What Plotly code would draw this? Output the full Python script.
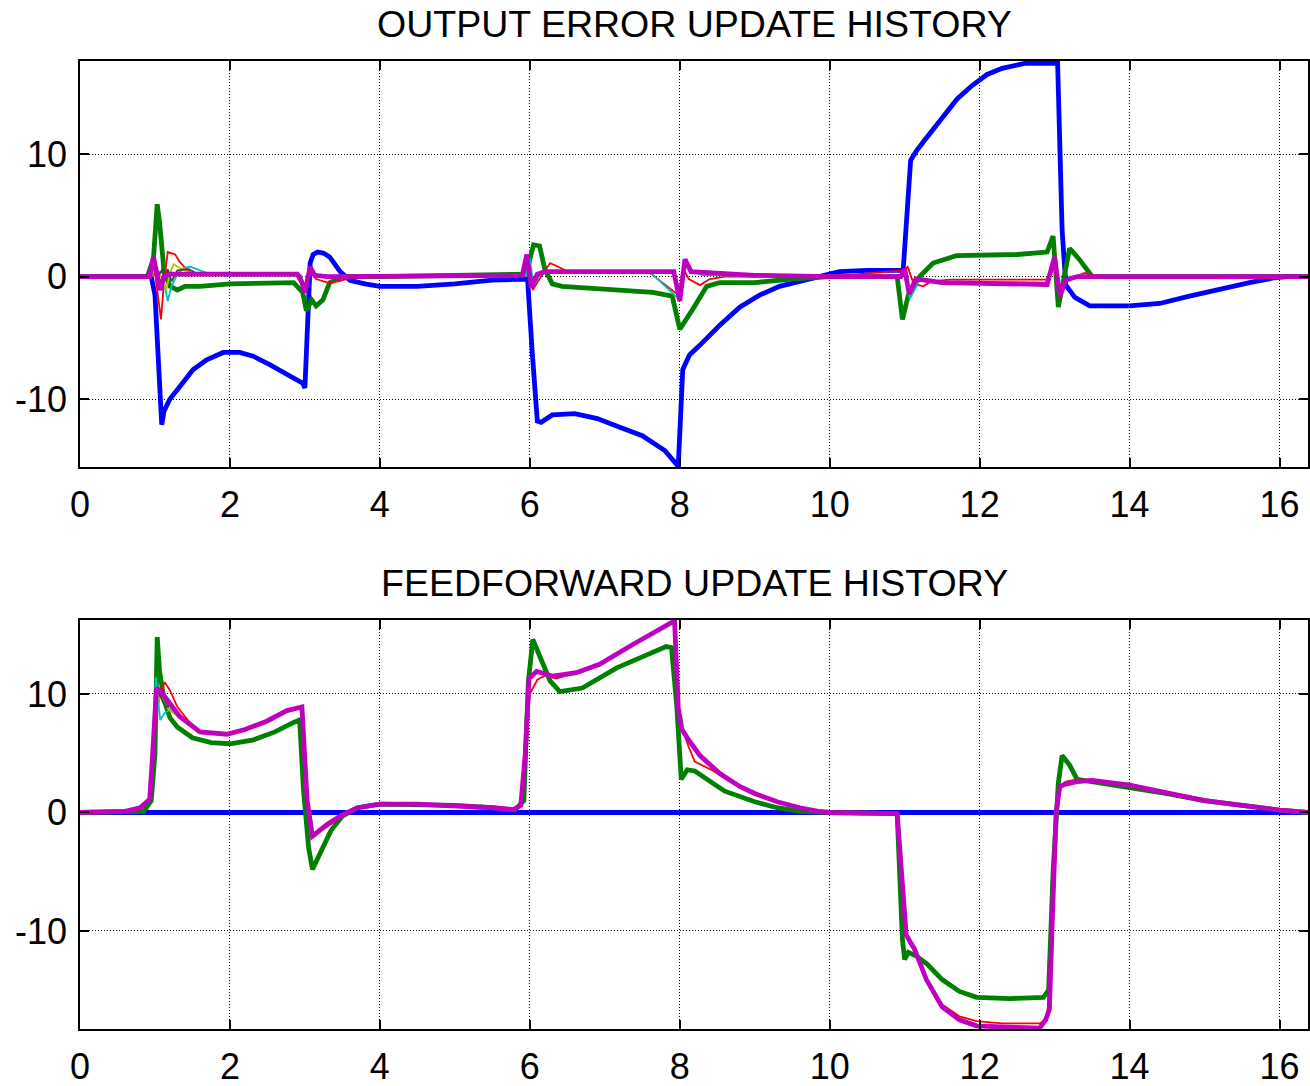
import plotly.graph_objects as go
from plotly.subplots import make_subplots

# ---------------- TOP: OUTPUT ERROR UPDATE HISTORY ----------------
e_blue_t = [0, 0.95, 1.0, 1.05, 1.09, 1.12, 1.2, 1.33, 1.51, 1.69, 1.91, 2.13, 2.31, 2.53, 2.76, 2.97, 3.0,
            3.07, 3.11, 3.17, 3.25, 3.33, 3.47, 3.6, 3.8, 4.0, 4.5, 5.0, 5.5, 5.97, 6.03, 6.1, 6.15, 6.3,
            6.6, 6.9, 7.2, 7.5, 7.8, 7.98, 8.04, 8.13, 8.27, 8.53, 8.8, 9.07, 9.33, 9.6, 9.87, 10.13, 10.5,
            10.98, 11.08, 11.15, 11.25, 11.35, 11.5, 11.7, 11.9, 12.1, 12.3, 12.6, 13.0, 13.04, 13.1, 13.15,
            13.27, 13.47, 14.0, 14.4, 14.8, 15.2, 15.6, 15.93, 16.1, 16.38]
e_blue_v = [0, 0, -1.5, -8.0, -12.1, -11.0, -10.0, -9.0, -7.6, -6.8, -6.2, -6.2, -6.5, -7.2, -8.0, -8.7, -9.1,
            1.1, 1.8, 2.0, 1.9, 1.6, 0.4, -0.3, -0.6, -0.8, -0.8, -0.6, -0.3, -0.2, -6.0, -11.8, -11.9, -11.3,
            -11.2, -11.6, -12.3, -13.0, -14.2, -15.5, -7.6, -6.4, -5.6, -4.0, -2.5, -1.5, -0.8, -0.4, 0.1, 0.4, 0.5,
            0.5, 9.5, 10.2, 11.0, 11.8, 13.0, 14.5, 15.6, 16.5, 17.0, 17.4, 17.4, 17.5, 3.8, -0.7,
            -1.7, -2.4, -2.4, -2.2, -1.6, -1.0, -0.5, -0.1, 0, 0]

e_green_t = [0, 0.9, 0.98, 1.03, 1.06, 1.12, 1.2, 1.3, 1.4, 1.6, 2.0, 2.5, 2.85, 2.97, 3.02, 3.09, 3.15,
             3.24, 3.33, 3.5, 4.0, 5.0, 5.95, 6.05, 6.13, 6.2, 6.3, 6.43, 7.24, 7.64, 7.9, 8.0, 8.17, 8.36,
             8.53, 9.0, 9.5, 10.0, 10.9, 10.97, 11.05, 11.2, 11.38, 11.69, 12.5, 12.9, 12.98, 13.05, 13.2,
             13.33, 13.5, 14.0, 16.38]
e_green_v = [0, 0, 1.5, 5.9, 4.5, 0.5, -0.8, -1.1, -0.8, -0.8, -0.6, -0.5, -0.5, -1.3, -2.8, -1.9, -2.4,
             -1.9, -0.5, 0, 0, 0.1, 0.2, 2.6, 2.5, 0.6, -0.6, -0.8, -1.1, -1.3, -1.6, -4.3, -2.7, -0.8,
             -0.5, -0.5, -0.2, 0, 0, -3.5, -1.5, 0, 1.1, 1.7, 1.8, 2.0, 3.3, -2.5, 2.3,
             1.4, 0, 0, 0]

e_red_t = [0, 0.95, 1.0, 1.05, 1.08, 1.12, 1.17, 1.27, 1.33, 1.42, 1.5, 2.0, 2.95, 3.0, 3.05, 3.15, 3.3,
           3.45, 3.6, 4.0, 5.9, 5.96, 6.04, 6.15, 6.27, 6.38, 6.5, 7.6, 7.98, 8.05, 8.12, 8.27, 8.4, 8.6,
           10.0, 10.98, 11.04, 11.12, 11.25, 11.35, 11.6, 12.9, 12.98, 13.05, 13.2, 13.4, 13.6, 16.38]
e_red_v = [0, 0, 0.3, -2.0, -3.5, -0.5, 2.0, 1.8, 1.2, 0.6, 0.2, 0.1, 0.1, -1.0, 0.5, -0.2, -0.5,
           -0.4, -0.1, 0, 0, 1.5, -1.1, 0.0, 1.1, 0.8, 0.4, 0.3, -1.5, 0.6, -0.2, -0.7, -0.2, 0,
           0, 0.5, 0.8, -0.6, -0.8, -0.4, -0.25, -0.25, 1.2, -1.0, -0.2, 0.3, 0, 0]

e_cyan_t = [0, 0.95, 1.0, 1.1, 1.17, 1.22, 1.3, 1.38, 1.47, 1.55, 1.69, 1.9, 2.95, 3.0, 3.05, 3.15, 5.95,
            6.0, 6.05, 6.15, 7.6, 7.98, 8.07, 8.15, 8.3, 10.95, 11.0, 11.07, 11.2, 11.6, 12.9, 13.0, 13.07,
            13.2, 16.38]
e_cyan_v = [0, 0, 0.5, 0.3, -2.0, -0.8, 0.2, 0.7, 0.8, 0.6, 0.3, 0.1, 0.1, -1.0, 0.6, 0, 0.1,
            1.5, -0.8, 0.3, 0.4, -1.8, 1.2, 0.5, 0.1, 0, 0.4, -1.8, -0.3, -0.45, -0.5, 1.2, -1.2,
            0, 0]

e_yellow_t = [0.95, 1.0, 1.08, 1.15, 1.2, 1.25, 1.33, 1.47, 1.6, 1.7]
e_yellow_v = [0, 0.8, 0.0, -1.1, 0.3, 1.0, 0.7, 0.3, 0.1, 0.1]

e_grey_t = [1.05, 1.1, 1.13, 1.17, 1.22, 1.3, 1.45, 1.6]
e_grey_v = [0.1, 0.6, -0.3, 0.6, -0.4, 0.5, 0.6, 0.1]

e_mag_t = [0, 0.93, 0.98, 1.02, 1.07, 1.12, 1.2, 1.5, 2.9, 2.96, 3.0, 3.07, 3.13, 3.3, 3.5, 5.9, 5.96,
           6.02, 6.1, 6.2, 7.6, 7.92, 8.0, 8.07, 8.15, 8.5, 9.0, 10.0, 10.95, 11.0, 11.06, 11.15, 11.5,
           12.9, 13.0, 13.07, 13.15, 13.3, 16.38]
e_mag_v = [0, 0, 1.6, 0.5, -1.1, 0.0, 0.2, 0.2, 0.2, -0.5, -1.3, 0.8, 0.1, 0.0, 0.0, 0.1, 1.8,
           -0.9, 0.2, 0.4, 0.4, 0.4, -2.0, 1.4, 0.4, 0.3, 0.1, 0.0, 0.0, 0.6, -1.4, -0.2, -0.5,
           -0.65, 1.6, -1.6, -0.3, 0.0, 0.0]

# ---------------- BOTTOM: FEEDFORWARD UPDATE HISTORY ----------------
f_blue_t = [0, 16.38]
f_blue_v = [0, 0]

f_green_t = [0, 0.6, 0.85, 0.95, 1.0, 1.03, 1.06, 1.12, 1.2, 1.3, 1.5, 1.75, 2.0, 2.3, 2.6, 2.85, 2.93,
             2.98, 3.05, 3.1, 3.2, 3.35, 3.5, 3.7, 4.0, 5.0, 5.5, 5.8, 5.92, 5.98, 6.04, 6.13, 6.27, 6.4,
             6.7, 7.16, 7.6, 7.82, 7.89, 7.96, 8.02, 8.1, 8.2, 8.4, 8.6, 9.0, 9.3, 9.6, 10.0, 10.9, 10.97,
             11.0, 11.05, 11.15, 11.3, 11.5, 11.73, 11.96, 12.4, 12.85, 12.92, 12.98, 13.05, 13.1, 13.2,
             13.3, 13.5, 14.0, 14.5, 15.0, 15.5, 16.0, 16.38]
f_green_v = [0, 0, 0.1, 1.0, 5.0, 14.8, 12.0, 9.5, 8.0, 7.2, 6.3, 5.9, 5.8, 6.1, 6.8, 7.6, 7.8,
             2.0, -3.0, -4.8, -3.5, -1.5, -0.3, 0.4, 0.7, 0.6, 0.4, 0.2, 1.0, 11.0, 14.6, 13.2, 11.1, 10.2,
             10.5, 12.2, 13.4, 14.0, 13.9, 9.0, 2.8, 3.6, 3.5, 2.6, 1.8, 0.9, 0.4, 0.1, 0, -0.1, -10.7,
             -12.4, -11.8, -12.1, -12.8, -14.1, -15.1, -15.6, -15.7, -15.6, -15.0, -5.0, 2.5, 4.8, 4.0,
             2.8, 2.6, 2.2, 1.6, 1.0, 0.6, 0.2, 0]

f_red_t = [0, 0.5, 0.8, 0.93, 1.0, 1.06, 1.13, 1.2, 1.3, 1.45, 1.6, 1.96, 2.2, 2.49, 2.76, 2.91, 2.96,
           3.03, 3.1, 3.3, 3.5, 3.7, 4.0, 4.5, 5.0, 5.5, 5.78, 5.88, 5.94, 6.0, 6.1, 6.22, 6.35, 6.62,
           6.93, 7.38, 7.69, 7.91, 7.93, 7.98, 8.05, 8.12, 8.2, 8.32, 8.45, 8.6, 8.8, 9.0, 9.3, 9.6, 9.85,
           10.0, 10.9, 10.97, 11.02, 11.13, 11.29, 11.5, 11.73, 11.96, 12.3, 12.8, 12.9, 12.97, 13.02,
           13.07, 13.15, 13.3, 13.5, 14.0, 14.5, 15.0, 15.5, 16.0, 16.38]
f_red_v = [0, 0, 0.4, 1.1, 7.3, 9.8, 11.0, 10.3, 8.9, 7.7, 6.8, 6.6, 7.0, 7.7, 8.6, 8.9, 8.9,
           0.5, -1.8, -1.2, -0.3, 0.4, 0.7, 0.7, 0.6, 0.4, 0.25, 0.6, 4.0, 10.0, 11.2, 11.6, 11.3, 11.8,
           12.5, 14.2, 15.3, 16.1, 16.3, 9.0, 6.8, 5.5, 4.3, 3.9, 3.5, 2.9, 2.2, 1.6, 0.9, 0.4, 0.1,
           0, -0.1, -6.2, -10.3, -11.4, -14.0, -16.2, -17.2, -17.6, -17.8, -17.8, -17.5, -9.0, 0.0,
           2.2, 2.6, 2.8, 2.7, 2.3, 1.7, 1.0, 0.6, 0.2, 0]

f_cyan_t = [0, 0.5, 0.8, 0.93, 0.98, 1.01, 1.07, 1.13, 1.2, 1.33, 1.45, 1.6, 1.96, 2.2, 2.49, 2.76,
            2.91, 2.96, 3.03, 3.1, 3.3]
f_cyan_v = [0, 0, 0.4, 1.1, 6.0, 11.4, 7.8, 8.4, 8.7, 8.1, 7.4, 6.8, 6.6, 7.0, 7.7, 8.6,
            8.9, 8.9, 1.0, -2.0, -1.0]

f_yellow_t = [0.93, 0.98, 1.03, 1.08, 1.13, 1.2, 1.33, 1.6, 1.96]
f_yellow_v = [1.1, 5.5, 9.4, 9.8, 9.1, 8.6, 8.0, 6.8, 6.6]

f_grey_t = [1.05, 1.1, 1.15, 1.2, 1.3]
f_grey_v = [10.2, 9.4, 8.9, 9.0, 8.3]

f_mag_t = [0, 0.5, 0.6, 0.8, 0.93, 0.97, 1.02, 1.08, 1.2, 1.33, 1.6, 1.96, 2.2, 2.49, 2.76, 2.91, 2.96,
           3.03, 3.1, 3.3, 3.5, 3.7, 4.0, 4.5, 5.0, 5.5, 5.78, 5.88, 5.94, 5.99, 6.09, 6.31, 6.62, 6.93,
           7.38, 7.69, 7.91, 7.93, 7.98, 8.03, 8.1, 8.27, 8.53, 8.8, 9.0, 9.3, 9.6, 9.85, 10.0, 10.9,
           10.97, 11.02, 11.08, 11.13, 11.29, 11.5, 11.73, 11.96, 12.3, 12.63, 12.8, 12.88, 12.93, 12.97,
           13.02, 13.07, 13.15, 13.3, 13.5, 14.0, 14.5, 15.0, 15.5, 16.0, 16.38]
f_mag_v = [0, 0, 0.1, 0.4, 1.1, 5.0, 10.5, 10.2, 9.2, 8.1, 6.8, 6.6, 7.0, 7.7, 8.6, 8.9, 8.9,
           1.0, -2.0, -1.0, -0.2, 0.4, 0.7, 0.7, 0.6, 0.4, 0.25, 0.6, 5.0, 11.3, 11.9, 11.5, 11.8, 12.5,
           14.2, 15.3, 16.1, 16.3, 8.8, 7.0, 6.3, 4.8, 3.3, 2.2, 1.6, 0.9, 0.4, 0.1, 0, -0.1,
           -6.2, -10.3, -11.0, -11.5, -14.1, -16.4, -17.5, -18.0, -18.1, -18.1, -18.2, -17.5, -16.6, -9.0,
           0.0, 2.2, 2.4, 2.6, 2.7, 2.3, 1.7, 1.0, 0.6, 0.2, 0]

x_ticks = [0, 2, 4, 6, 8, 10, 12, 14, 16]
y_ticks = [-10, 0, 10]
titles = ["OUTPUT ERROR UPDATE HISTORY", "FEEDFORWARD UPDATE HISTORY"]

BLUE, GREEN, RED, CYAN, MAG, YEL, GREY = "#0000ff", "#008000", "#ff0000", "#00bfbf", "#bf00bf", "#bfbf00", "#404040"
THICK, THIN = 4.8, 1.8

fig = make_subplots(rows=2, cols=1)

top = [(e_blue_t, e_blue_v, BLUE, THICK), (e_green_t, e_green_v, GREEN, THICK),
       (e_red_t, e_red_v, RED, THIN), (e_cyan_t, e_cyan_v, CYAN, THIN),
       (e_yellow_t, e_yellow_v, YEL, THIN), (e_grey_t, e_grey_v, GREY, THIN),
       (e_mag_t, e_mag_v, MAG, THICK)]
bot = [(f_blue_t, f_blue_v, BLUE, THICK), (f_green_t, f_green_v, GREEN, THICK),
       (f_red_t, f_red_v, RED, THIN), (f_cyan_t, f_cyan_v, CYAN, THIN),
       (f_yellow_t, f_yellow_v, YEL, THIN), (f_grey_t, f_grey_v, GREY, THIN),
       (f_mag_t, f_mag_v, MAG, THICK)]

for row, group in ((1, top), (2, bot)):
    for t, v, c, w in group:
        fig.add_trace(go.Scatter(x=t, y=v, mode="lines", line=dict(color=c, width=w),
                                 showlegend=False, hoverinfo="skip"), row=row, col=1)

FONT = "Liberation Sans, Arial, Helvetica, sans-serif"
axis_common = dict(showline=True, linecolor="black", linewidth=1.5, mirror="ticks",
                   ticks="inside", ticklen=9, tickwidth=1.5, tickcolor="black",
                   showgrid=True, gridcolor="black", gridwidth=1, griddash="1px,2px",
                   zeroline=False, automargin=False,
                   tickfont=dict(family=FONT, size=36, color="black"))

fig.update_xaxes(**axis_common, range=[0, 16.38], tickvals=x_ticks,
                 ticktext=[str(v) for v in x_ticks], ticklabelstandoff=5)
fig.update_yaxes(**axis_common, tickvals=y_ticks, ticktext=[str(v) for v in y_ticks],
                 ticklabelstandoff=4)

fig.update_layout(
    width=1310, height=1086, plot_bgcolor="white", paper_bgcolor="white",
    margin=dict(l=80, r=2, t=61, b=57, autoexpand=False),
    xaxis=dict(domain=[0, 1]), xaxis2=dict(domain=[0, 1]),
    yaxis=dict(domain=[0.5806, 1.0], range=[-15.55, 17.6]),
    yaxis2=dict(domain=[0.0, 0.4225], range=[-18.27, 16.24]),
    annotations=[
        dict(text=titles[0], x=0.5, y=1.0 + 37 / 968, xref="paper", yref="paper",
             showarrow=False, xanchor="center", yanchor="middle",
             font=dict(family=FONT, size=37.5, color="black")),
        dict(text=titles[1], x=0.5, y=0.4225 + 37 / 968, xref="paper", yref="paper",
             showarrow=False, xanchor="center", yanchor="middle",
             font=dict(family=FONT, size=37.5, color="black")),
    ],
)

fig.write_html("out.html", config={"displayModeBar": False},
               post_script="document.body.style.margin='0';document.body.style.overflow='hidden';")
